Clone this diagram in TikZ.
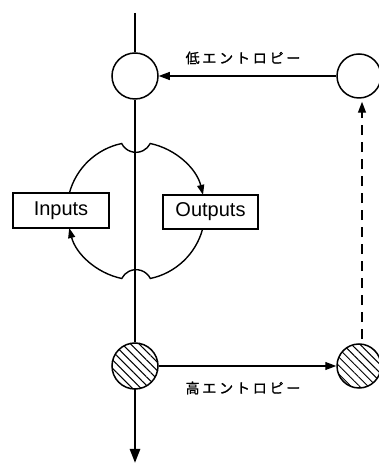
\documentclass[tikz,border=0pt]{standalone}
\usepackage{fontspec}
\setmainfont{Liberation Sans}
\newfontfamily\jp[LetterSpace=20,FakeBold=1.2]{Noto Sans CJK JP}
\usetikzlibrary{arrows.meta,patterns.meta,calc}
\begin{document}
\begin{tikzpicture}[x=1pt,y=1pt,
  circ/.style={circle,draw,line width=1.5pt,minimum size=46pt,inner sep=0pt,fill=white},
  hatch/.style={circ,pattern={Lines[angle=-45,distance=6pt,line width=1pt]}},
  box/.style={draw,line width=1.4pt,minimum width=96pt,minimum height=35pt,inner sep=0pt,font=\fontsize{20}{20}\selectfont},
  main/.style={line width=2.6pt},
  flow/.style={line width=1.1pt,-{Triangle[length=11pt,width=8pt]}},
  loop/.style={line width=1.4pt},
  lab/.style={font=\jp\fontsize{14}{14}\selectfont}]
\useasboundingbox (0,0) rectangle (379,468);
% circles
\node[circ] (L1) at (135,392) {};
\node[circ,minimum size=44pt] (R1) at (359,392) {};
\node[hatch] (L2) at (135,102) {};
\node[hatch,minimum size=44pt] (R2) at (359,102) {};
\coordinate (top) at (135,455);
\coordinate (bot) at (135,5);
\coordinate (C) at (136,257);
% boxes
\node[box] (in) at (61,257.5) {Inputs};
\node[box,minimum width=95pt,minimum height=34pt] (out) at (210.5,256) {Outputs};
% main vertical line
\draw[main] (top) -- (L1);
\draw[main] (L1) -- (L2);
\draw[main,-{Triangle[length=14pt,width=10pt]}] (L2) -- (bot);
% horizontal flows
\draw[flow] (R1) -- (L1);
\draw[flow] (L2) -- (R2);
\draw[flow,line width=1.4pt,dash pattern=on 10pt off 7pt,shorten <=4pt,shorten >=3pt]
  ([xshift=3pt]R2.north) -- ([xshift=3pt]R1.south);
% labels
\node[lab] (lo) at (243,410) {低エントロピー};
\node[lab] (hi) at (243,80) {高エントロピー};
% loops
\draw[loop,-{Triangle[length=10pt,width=7pt]}]
  ($(C)+(165:69)$) arc[start angle=165,end angle=102,radius=69]
  arc[start angle=206.6,end angle=333.4,radius=16]
  arc[start angle=78,end angle=13.5,radius=69];
\draw[loop,-{Triangle[length=10pt,width=7pt]}]
  ($(C)+(-15:69)$) arc[start angle=-15,end angle=-78,radius=69]
  arc[start angle=26.6,end angle=153.4,radius=16]
  arc[start angle=-102,end angle=-165.7,radius=69];
\end{tikzpicture}
\end{document}
